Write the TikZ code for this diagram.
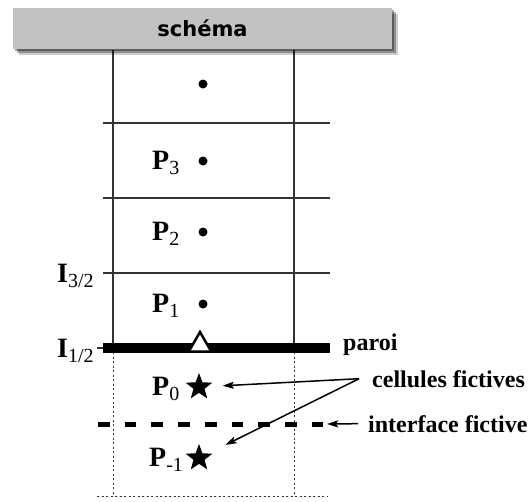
\documentclass[tikz,border=0pt]{standalone}
\usepackage{fontspec}
\setmainfont{Liberation Serif}
\newfontfamily\headfont{DejaVu Sans}
\usetikzlibrary{arrows.meta,shapes.geometric,shadows}
\definecolor{headgray}{HTML}{C2C2C2}
\definecolor{gridline}{HTML}{333333}
\tikzset{
  cellline/.style={draw=gridline, line width=1.2pt},
  wall/.style={draw=black, line width=10pt},
  ghostline/.style={draw=gridline, line width=1pt, dash pattern=on 2pt off 2.5pt},
  ghostface/.style={draw=black, line width=5pt, dash pattern=on 11.7pt off 15pt},
  pt/.style={circle, fill=black, inner sep=0pt, minimum size=9pt},
  ghostpt/.style={star, star points=5, star point ratio=2.4, fill=black, inner sep=0pt, minimum size=28pt},
  wallpt/.style={regular polygon, regular polygon sides=3, draw=black, fill=white, line width=2.5pt, inner sep=0pt, minimum size=26pt},
  lab/.style={font=\fontsize{28}{28}\selectfont\bfseries, inner sep=0pt, anchor=base west},
  note/.style={font=\fontsize{24}{24}\selectfont\bfseries, inner sep=0pt, anchor=base west},
  arr/.style={draw=black, line width=1.5pt, -{Stealth[length=11pt,width=7pt,inset=2pt]}},
  headbox/.style={fill=headgray, inner sep=0pt, minimum width=379pt, minimum height=41pt,
    font=\headfont\fontsize{21}{21}\selectfont\bfseries,
    general shadow={fill=black, opacity=0.35, shadow xshift=2pt, shadow yshift=-2pt},
    general shadow={fill=black, opacity=0.3, shadow xshift=4pt, shadow yshift=-4pt},
    general shadow={fill=black, opacity=0.2, shadow xshift=5.5pt, shadow yshift=-6pt}},
}
\newcommand{\idx}[1]{\raisebox{-5pt}{\fontsize{20}{20}\selectfont\mdseries #1}}

\begin{document}
\begin{tikzpicture}[x=1pt, y=-1pt]
  \useasboundingbox (0,0) rectangle (529,501);

  % real cells
  \draw[cellline] (113,50) -- (113,348);
  \draw[cellline] (294,50) -- (294,348);
  \foreach \y in {123,198,273}
    \draw[cellline] (103,\y) -- (330,\y);
  \draw[cellline] (97,348) -- (103,348);

  % ghost cells
  \draw[ghostline] (113,352) -- (113,496);
  \draw[ghostline] (294,352) -- (294,496);
  \draw[ghostline] (97,496) -- (327,496);
  \draw[ghostface] (98,424) -- (327,424);
  \coordinate (ifend) at (327,424);

  % wall
  \draw[wall] (103,348) -- (330,348);
  \node[wallpt] (w) at (200,345) {};

  \node[headbox] (head) at (202.5,28.5) {schéma};

  % cell centres
  \node[pt] (d4) at (203,84) {};
  \node[pt] (d3) at (203,161) {};
  \node[pt] (d2) at (203,232) {};
  \node[pt] (d1) at (203,304) {};
  \node[ghostpt] (g0) at (199,387) {};
  \node[ghostpt] (gm) at (199,458) {};

  \node[lab] (l3) at (152,169.5) {P\idx{3}};
  \node[lab] (l2) at (152,240.5) {P\idx{2}};
  \node[lab] (l1) at (152,312.5) {P\idx{1}};
  \node[lab] (l0) at (152,395.5) {P\idx{0}};
  \node[lab] (lm) at (149,466.5) {P\idx{-1}};
  \node[lab] (i3) at (57,282) {I\idx{3/2}};
  \node[lab] (i1) at (57,357) {I\idx{1/2}};

  % notes
  \node[note] (paroi) at (343,350) {paroi};
  \node[note] (cf) at (372,387) {cellules fictives};
  \node[note] (ifn) at (368,432) {interface fictive};

  \coordinate (cfstart) at ([xshift=-13pt]cf.west);
  \draw[arr, shorten >=15pt] (cfstart) -- (g0);
  \draw[arr, shorten >=19pt] (cfstart) -- (gm);
  \draw[arr] ([xshift=-10pt]ifn.west) -- (ifend);
\end{tikzpicture}
\end{document}
